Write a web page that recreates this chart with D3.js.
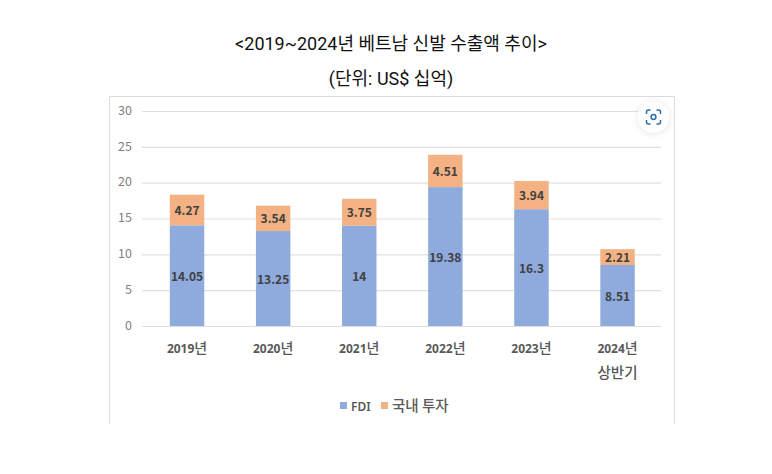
<!DOCTYPE html>
<html>
<head>
<meta charset="utf-8">
<script src="https://cdnjs.cloudflare.com/ajax/libs/d3/7.8.5/d3.min.js"></script>
<style>
  html, body { margin: 0; padding: 0; background: #fff; }
  svg { display: block; }
</style>
</head>
<body>
<div id="chart"></div>
<script>
var years = ['2019년', '2020년', '2021년', '2022년', '2023년', '2024년'];
var yearNotes = ['', '', '', '', '', '상반기'];
var fdi = [14.05, 13.25, 14, 19.38, 16.3, 8.51];
var domestic = [4.27, 3.54, 3.75, 4.51, 3.94, 2.21];
var yTicks = [0, 5, 10, 15, 20, 25, 30];
var seriesNames = ['FDI', '국내 투자'];
var titleLines = ['<2019~2024년 베트남 신발 수출액 추이>', '(단위: US$ 십억)'];

var KR_FONT = '"Noto Sans CJK KR", "Noto Sans", sans-serif';
var LATIN_FONT = '"Noto Sans", "Noto Sans CJK KR", sans-serif';
var TITLE_FONT = 'Roboto, "Noto Sans CJK KR", sans-serif';
var BLUE = '#8faadc', ORANGE = '#f4b183';
var GRID = '#e0e0e0', FRAME = '#dcdcdc';

var svg = d3.select('#chart').append('svg')
  .attr('width', 772)
  .attr('height', 474);

/* titles */
svg.selectAll('text.title').data(titleLines).enter().append('text')
  .attr('class', 'title')
  .attr('x', 391)
  .attr('y', function(d, i) { return 49.5 + i * 35.5; })
  .attr('text-anchor', 'middle')
  .style('font', '400 18px ' + TITLE_FONT)
  .attr('fill', '#111')
  .text(function(d) { return d; });

/* image frame, open at the bottom */
svg.append('path')
  .attr('d', 'M109.5,424V96.5H674.5V424')
  .attr('fill', 'none')
  .attr('stroke', FRAME)
  .attr('stroke-width', 1);

var x = d3.scaleBand().domain(years).range([144, 660.6]).paddingInner(0.6).paddingOuter(0.3);
var y = d3.scaleLinear().domain([0, 30]).range([326, 111]);

/* ---- Grid and y labels ---- */
var yAxis = d3.axisLeft(y).tickValues(yTicks).tickSize(-519).tickPadding(10);
var gy = svg.append('g').attr('transform', 'translate(142,0)').call(yAxis);
gy.select('.domain').remove();
gy.selectAll('line').attr('stroke', GRID).attr('stroke-width', 1.2);
gy.selectAll('text')
  .attr('fill', '#7f7f7f')
  .attr('dy', '0.26em')
  .style('font', '400 12.5px ' + KR_FONT);

/* ---- Bars ---- */
var gBars = svg.append('g');
gBars.selectAll('rect.fdi').data(years).enter().append('rect')
  .attr('class', 'fdi')
  .attr('x', function(d) { return x(d); })
  .attr('width', x.bandwidth())
  .attr('y', function(d, i) { return y(fdi[i]); })
  .attr('height', function(d, i) { return y(0) - y(fdi[i]); })
  .attr('fill', BLUE);

gBars.selectAll('rect.dom').data(years).enter().append('rect')
  .attr('class', 'dom')
  .attr('x', function(d) { return x(d); })
  .attr('width', x.bandwidth())
  .attr('y', function(d, i) { return y(fdi[i] + domestic[i]); })
  .attr('height', function(d, i) { return y(0) - y(domestic[i]); })
  .attr('fill', ORANGE);

/* ---- Value labels ---- */
function addLabels(values, base) {
  svg.selectAll(null).data(values).enter().append('text')
    .attr('x', function(d, i) { return x(years[i]) + x.bandwidth() / 2; })
    .attr('y', function(d, i) { return y(base[i] + d / 2); })
    .attr('dy', '0.42em')
    .attr('text-anchor', 'middle')
    .attr('fill', '#404040')
    .style('font', '600 12px ' + KR_FONT)
    .text(function(d) { return d; });
}
addLabels(fdi, years.map(function() { return 0; }));
addLabels(domestic, fdi);

/* ---- Category labels: digits bold and small, the Korean part larger ---- */
var xAxis = d3.axisBottom(x).tickSize(0).tickPadding(20);
var gx = svg.append('g').attr('transform', 'translate(0,326)').call(xAxis);
gx.select('.domain').attr('stroke', GRID).attr('stroke-width', 1.2)
  .attr('d', 'M142,0.5H661');
gx.selectAll('text')
  .attr('fill', '#595959')
  .each(function(d) {
    var t = d3.select(this).text('');
    t.append('tspan').style('font', '700 12px ' + LATIN_FONT).text(d.slice(0, -1));
    t.append('tspan').style('font', '500 14px ' + KR_FONT).text(d.slice(-1));
  });

svg.selectAll('text.note').data(yearNotes).enter().append('text')
  .attr('class', 'note')
  .attr('x', function(d, i) { return x(years[i]) + x.bandwidth() / 2; })
  .attr('y', 378)
  .attr('text-anchor', 'middle')
  .attr('fill', '#595959')
  .style('font', '500 14.5px ' + KR_FONT)
  .text(function(d) { return d; });

/* ---- Legend ---- */
var legendX = [340, 381];
var legendColors = [BLUE, ORANGE];
var legendFonts = ['600 12px ' + LATIN_FONT, '500 14.5px ' + KR_FONT];
var legend = svg.selectAll('g.legend').data(seriesNames).enter().append('g')
  .attr('class', 'legend')
  .attr('transform', function(d, i) { return 'translate(' + legendX[i] + ',402)'; });
legend.append('rect')
  .attr('width', 7)
  .attr('height', 7)
  .attr('fill', function(d, i) { return legendColors[i]; });
legend.append('text')
  .attr('x', 11)
  .attr('y', 8.5)
  .attr('fill', '#595959')
  .style('font', function(d, i) { return legendFonts[i]; })
  .text(function(d) { return d; });

/* ---- Image-search badge over the corner ---- */
var badge = svg.append('g').attr('transform', 'translate(653.5,117)');
badge.append('circle').attr('r', 16).attr('fill', '#fff')
  .style('filter', 'drop-shadow(0 1px 3px rgba(0,0,0,0.10))');
badge.append('circle').attr('r', 2.4).attr('fill', 'none')
  .attr('stroke', '#2a6cb0').attr('stroke-width', 1.5);
badge.append('path')
  .attr('d', 'M-3,-7H-5Q-7,-7 -7,-5V-3M3,-7H5Q7,-7 7,-5V-3M-7,3V5Q-7,7 -5,7H-3M7,3V5Q7,7 5,7H3')
  .attr('fill', 'none')
  .attr('stroke', '#2a6cb0')
  .attr('stroke-width', 1.5);
</script>
</body>
</html>
